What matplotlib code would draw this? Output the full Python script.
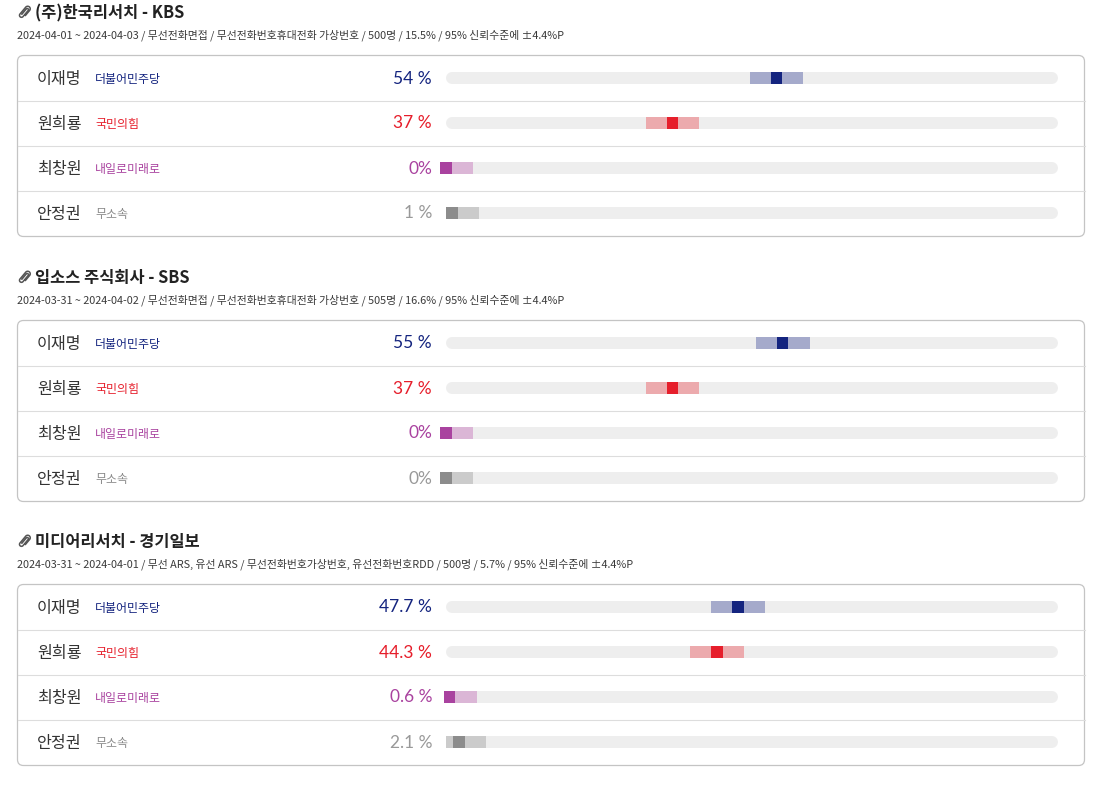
import numpy as np
import matplotlib
matplotlib.use("Agg")
import matplotlib.pyplot as plt
from matplotlib.patches import FancyBboxPatch

plt.rcParams['font.family'] = ['Noto Sans CJK KR', 'DejaVu Sans']

# ---- data ----
pollsters = ["(주)한국리서치 - KBS", "입소스 주식회사 - SBS", "미디어리서치 - 경기일보"]
details = [
    "2024-04-01 ~ 2024-04-03 / 무선전화면접 / 무선전화번호휴대전화 가상번호 / 500명 / 15.5% / 95% 신뢰수준에 ±4.4%P",
    "2024-03-31 ~ 2024-04-02 / 무선전화면접 / 무선전화번호휴대전화 가상번호 / 505명 / 16.6% / 95% 신뢰수준에 ±4.4%P",
    "2024-03-31 ~ 2024-04-01 / 무선 ARS, 유선 ARS / 무선전화번호가상번호, 유선전화번호RDD / 500명 / 5.7% / 95% 신뢰수준에 ±4.4%P",
]
candidates = ["이재명", "원희룡", "최창원", "안정권"]
parties = ["더불어민주당", "국민의힘", "내일로미래로", "무소속"]
values = [
    [54, 37, 0, 1],
    [55, 37, 0, 0],
    [47.7, 44.3, 0.6, 2.1],
]
value_labels = [
    ["54 %", "37 %", "0%", "1 %"],
    ["55 %", "37 %", "0%", "0%"],
    ["47.7 %", "44.3 %", "0.6 %", "2.1 %"],
]
margins = [4.4, 4.4, 4.4]

dark_colors = ["#14247f", "#e61e2b", "#a9429f", "#8c8c8c"]
light_colors = ["#a5aacb", "#ecaaad", "#dbb6d6", "#cbcbcb"]
text_colors = ["#14247f", "#e61e2b", "#a9429f", "#999999"]
party_colors = ["#14247f", "#e61e2b", "#a9429f", "#8a8a8a"]

W, H = 1094, 791
fig = plt.figure(figsize=(W / 100, H / 100), dpi=100)
bg = fig.add_axes([0, 0, 1, 1])
bg.set_xlim(0, W)
bg.set_ylim(H, 0)
bg.axis('off')

box_tops = [55, 320, 584]
row_h = 45
track_x0, track_x1 = 446, 1058
px_per_unit = (track_x1 - track_x0) / 100.0


def paperclip(cx, cy, size=1.0):
    # small decorative paperclip icon
    t1 = np.linspace(np.pi, 0, 20)
    t2 = np.linspace(0, -np.pi, 20)
    t3 = np.linspace(np.pi, 0, 20)
    pts = []
    pts += [(1.0, 1.2), (1.0, 5.6)]
    pts += list(zip(1.75 + 0.75 * np.cos(t1), 5.6 + 0.75 * np.sin(t1)))
    pts += [(2.5, 0.6)]
    pts += list(zip(1.25 + 1.25 * np.cos(t2), 0.6 + 1.25 * np.sin(t2)))
    pts += [(0.0, 6.2)]
    pts += list(zip(1.6 + 1.6 * np.cos(t3), 6.2 + 1.6 * np.sin(t3)))
    pts += [(3.2, 2.0)]
    p = np.array(pts) - np.array([1.6, 3.6])
    a = np.deg2rad(-40)
    rot = np.array([[np.cos(a), -np.sin(a)], [np.sin(a), np.cos(a)]])
    p = p @ rot.T * size
    bg.plot(cx + p[:, 0], cy - p[:, 1], color="#555555", lw=1.1,
            solid_capstyle='round', solid_joinstyle='round')


for b, top in enumerate(box_tops):
    # header
    paperclip(25, top - 43, size=1.6)
    bg.text(35, top - 42, pollsters[b], fontsize=11.8, fontweight='bold',
            color="#222222", va='center', ha='left')
    bg.text(17, top - 19.5, details[b], fontsize=7.8, color="#3a3a3a",
            va='center', ha='left')

    # box
    box = FancyBboxPatch((17.5, top + 0.5), 1067, 181,
                         boxstyle="round,pad=0,rounding_size=6",
                         fc="white", ec="#c4c4c4", lw=0.9)
    bg.add_patch(box)
    for i in range(1, 4):
        bg.plot([18, 1084.5], [top + 0.5 + row_h * i] * 2, color="#dddddd", lw=0.8)

    for i, name in enumerate(candidates):
        yc = top + 24.5 + row_h * i
        bg.text(37, yc, name, fontsize=11.6, color="#333333", va='center', ha='left')
        bg.text(95, yc, parties[i], fontsize=8.6, color=party_colors[i],
                va='center', ha='left')
        bg.text(432, yc - 1, value_labels[b][i], fontsize=12.5, color=text_colors[i],
                family=['Lato', 'DejaVu Sans'], va='center', ha='right')

    # bars
    ax = fig.add_axes([track_x0 / W, 1 - (top + 0.5 + 180) / H,
                       (track_x1 - track_x0) / W, 180 / H])
    ax.set_xlim(0, 100)
    ax.set_ylim(3.5, -0.5)
    ax.axis('off')
    bar_h = 12 / row_h
    cap = 6 / px_per_unit
    moe = margins[b]
    mark_w = 11.5 / px_per_unit
    for i in range(4):
        v = values[b][i]
        ax.plot([cap, 100 - cap], [i, i], color="#eeeeee", lw=12 * 0.72,
                solid_capstyle='round', zorder=1)
        lo = max(v - moe, 0)
        hi = min(v + moe, 100)
        ax.barh(i, hi - lo, left=lo, height=bar_h, color=light_colors[i],
                zorder=2, clip_on=False)
        ax.barh(i, mark_w, left=v - mark_w / 2, height=bar_h, color=dark_colors[i],
                zorder=3, clip_on=False)

fig.savefig("out.png", dpi=100)
